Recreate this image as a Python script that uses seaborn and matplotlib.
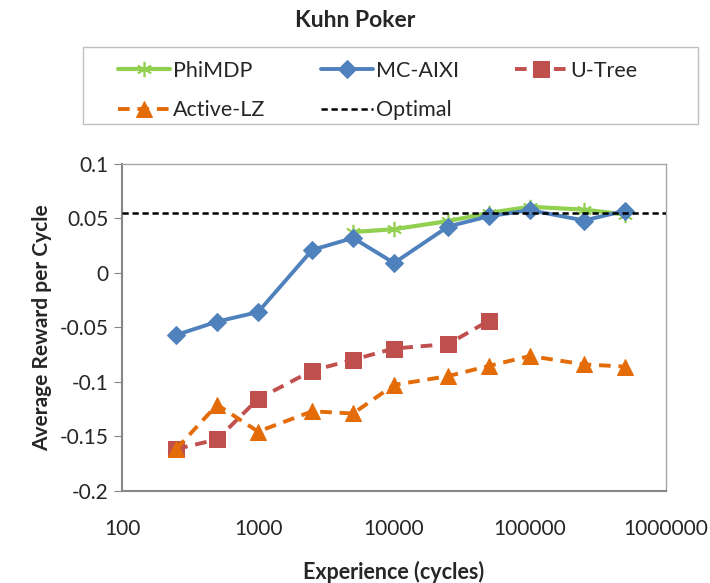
import pandas as pd
import matplotlib
matplotlib.use("Agg")
import matplotlib.pyplot as plt
import matplotlib.patches as mpatches
import seaborn as sb

# data
cycles_full = [250, 500, 1000, 2500, 5000, 10000, 25000, 50000, 100000, 250000, 500000]
mc_aixi = [-0.057, -0.0447, -0.036, 0.021, 0.032, 0.009, 0.0425, 0.052, 0.0575, 0.048, 0.057]
active_lz = [-0.1616, -0.121, -0.1456, -0.127, -0.129, -0.1028, -0.0947, -0.0853, -0.0763, -0.084, -0.086]
cycles_phimdp = [5000, 10000, 25000, 50000, 100000, 250000, 500000]
phimdp = [0.0375, 0.040, 0.0475, 0.055, 0.0606, 0.058, 0.0535]
cycles_utree = [250, 500, 1000, 2500, 5000, 10000, 25000, 50000]
utree = [-0.1616, -0.1528, -0.1156, -0.0897, -0.0797, -0.0694, -0.0653, -0.0438]
optimal = 0.0553

x_ticks = [100, 1000, 10000, 100000, 1000000]
y_ticks = [-0.2, -0.15, -0.1, -0.05, 0, 0.05, 0.1]


def main():
    sb.set_style("white")
    plt.rcParams['font.family'] = ['Lato', 'DejaVu Sans']

    fig = plt.figure(figsize=(7.1, 5.83), dpi=100)
    ax = fig.add_axes([0.172, 0.158, 0.766, 0.561])

    # one line per agent
    sb.lineplot(x=cycles_phimdp, y=phimdp, ax=ax, color='#92D050', lw=3,
                marker=(6, 2, 0), markersize=11, markeredgewidth=1.2,
                markeredgecolor='#92D050', label='PhiMDP', zorder=3)
    sb.lineplot(x=cycles_full, y=mc_aixi, ax=ax, color='#4F81BD', lw=2.8,
                marker='D', markersize=9, markeredgecolor='#4F81BD',
                label='MC-AIXI', zorder=4)
    sb.lineplot(x=cycles_utree, y=utree, ax=ax, color='#C0504D', lw=2.8,
                dashes=(3, 2), marker='s', markersize=11, markeredgecolor='#C0504D',
                label='U-Tree', zorder=3)
    sb.lineplot(x=cycles_full, y=active_lz, ax=ax, color='#E36C09', lw=2.8,
                dashes=(3, 2), marker='^', markersize=11, markeredgecolor='#E36C09',
                label='Active-LZ', zorder=3)
    ax.axhline(optimal, color='black', lw=1.8, ls=(0, (2.5, 1.5)),
               label='Optimal', zorder=5)

    ax.set_xscale('log')
    ax.set_xlim(100, 1000000)
    ax.set_ylim(-0.2, 0.1)
    ax.set_xticks(x_ticks)
    ax.set_xticklabels([str(v) for v in x_ticks])
    ax.minorticks_off()
    ax.set_yticks(y_ticks)
    ax.set_yticklabels(['-0.2', '-0.15', '-0.1', '-0.05', '0', '0.05', '0.1'])
    ax.tick_params(axis='x', direction='inout', length=12, color='#868686',
                   labelsize=15, pad=14)
    ax.tick_params(axis='y', direction='out', length=6, color='#868686',
                   labelsize=15, left=True)
    for sp in ax.spines.values():
        sp.set_color('#A6A6A6')
        sp.set_linewidth(1.0)
    ax.spines['left'].set_color('#868686')
    ax.spines['bottom'].set_color('#868686')
    ax.spines['left'].set_linewidth(1.5)
    ax.spines['bottom'].set_linewidth(1.5)

    ax.set_xlabel('Experience (cycles)', fontsize=15.5, fontweight='bold', labelpad=16)
    ax.set_ylabel('Average Reward per Cycle', fontsize=15, fontweight='bold', labelpad=6)
    fig.suptitle('Kuhn Poker', fontsize=16.5, fontweight='bold', y=0.982)

    # legend box drawn separately so the entries can sit where they do in the original
    fig.patches.append(mpatches.Rectangle((83 / 710, 459 / 583), 615 / 710, 77 / 583,
                                          transform=fig.transFigure, fill=False,
                                          edgecolor='#BFBFBF', lw=1.0))
    handles, labels = ax.get_legend_handles_labels()
    hmap = dict(zip(labels, handles))
    order = ['PhiMDP', 'Active-LZ', 'MC-AIXI', 'Optimal', 'U-Tree']
    ax.get_legend().remove()
    fig.legend([hmap[k] for k in order], order, ncol=3,
               loc='upper left', bbox_to_anchor=(118 / 710, 522 / 583),
               fontsize=15.5, frameon=False, handlelength=2.4, handletextpad=0.15,
               borderpad=0, borderaxespad=0, labelspacing=0.9, columnspacing=2.6)

    plt.savefig('out.png', dpi=100)


if __name__ == "__main__":
    main()
